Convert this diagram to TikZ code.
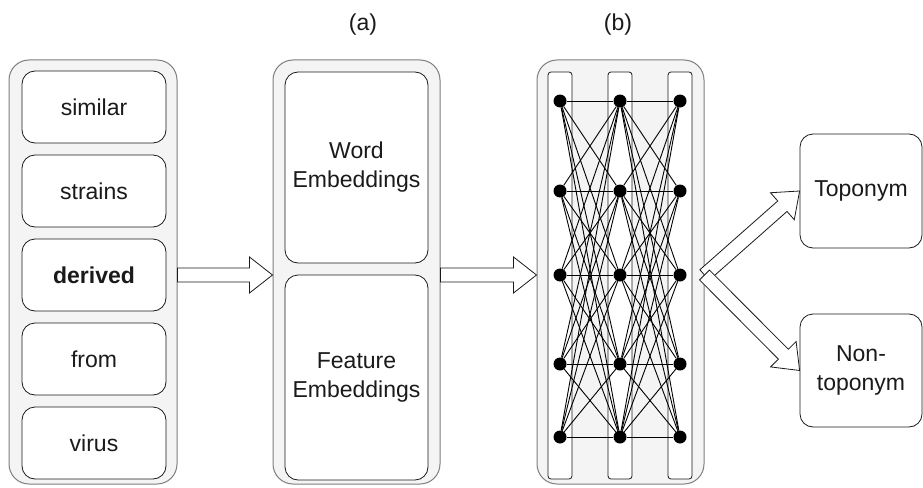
\documentclass[tikz,border=0pt]{standalone}
\usepackage{fontspec}
\setmainfont{Liberation Sans}
\usetikzlibrary{calc,positioning}
\definecolor{fondo}{HTML}{F4F4F4}
\definecolor{borde}{HTML}{7E7E7E}
\definecolor{tinta}{HTML}{1A1A1A}

\tikzset{
 panel/.style={draw=borde,fill=fondo,line width=1pt,rounded corners=20pt,minimum width=167pt,minimum height=424pt},
 wordbox/.style={draw=tinta,fill=white,line width=0.8pt,rounded corners=13pt,minimum width=144pt,minimum height=72pt,text=tinta},
 embbox/.style={wordbox,minimum width=143pt,align=center},
 outbox/.style={wordbox,minimum width=122pt,minimum height=114pt,align=center},
 layer/.style={draw=tinta,fill=white,line width=0.8pt,rounded corners=3pt,minimum width=24pt,minimum height=407pt},
 dot/.style={circle,fill=black,inner sep=0pt,minimum size=13pt},
 edge/.style={draw=black,line width=0.9pt},
 flow/.style={draw=tinta,fill=white,line width=0.8pt,line join=miter}
}

\newcommand{\blockarrow}[2]{%
 \path ($(#2)!23pt!(#1)$) coordinate (hb);
 \draw[flow] ($(#1)!7pt!90:(#2)$) -- ($(hb)!7pt!90:(#2)$) -- ($(hb)!18pt!90:(#2)$) -- (#2)
  -- ($(hb)!18pt!-90:(#2)$) -- ($(hb)!7pt!-90:(#2)$) -- ($(#1)!7pt!-90:(#2)$) -- cycle;}

\begin{document}
\begin{tikzpicture}[x=1pt,y=-1pt,font=\fontsize{23}{29}\selectfont]
\useasboundingbox (0,0) rectangle (923,487);

% input words
\node[panel,minimum width=168pt] (words) at (93,272) {};
\foreach \n/\y/\t in {1/107/similar,2/191/strains,3/275/\textbf{derived},4/359/from,5/443/virus}
 \node[wordbox] (w\n) at (94,\y) {\t};

% embeddings
\node[panel] (embed) at (356.5,272) {};
\node[embbox,minimum height=191pt] (wemb) at (356.5,167.5) {Word\\Embeddings};
\node[embbox,minimum height=205pt] (femb) at (356.5,377.5) {Feature\\Embeddings};
\node[text=tinta] (la) at (363,25) {(a)};

% network
\node[panel] (net) at (620.5,272) {};
\foreach \c/\x in {1/560,2/620,3/680} {
 \node[layer] (col\c) at (\x,275.5) {};
 \foreach \r/\y in {1/101,2/191,3/275,4/364,5/437}
  \node[dot] (n\c\r) at (\x,\y) {};
}
\foreach \i in {1,...,5} \foreach \j in {1,...,5} {
 \draw[edge] (n1\i) -- (n2\j);
 \draw[edge] (n2\i) -- (n3\j);
}
\node[text=tinta] (lb) at (618,25) {(b)};

% outputs
\node[outbox] (topo) at (861,191) {Toponym};
\node[outbox,minimum height=113pt] (nontopo) at (861,370.5) {Non-\\toponym};

% arrows
\coordinate (a1) at (words.east |- w3);
\coordinate (a2) at (embed.west |- w3);
\coordinate (a3) at (embed.east |- w3);
\coordinate (a4) at (net.west |- w3);
\coordinate (a5) at (net.east |- w3);
\blockarrow{a1}{a2}
\blockarrow{a3}{a4}
\blockarrow{a5}{topo.west}
\blockarrow{a5}{nontopo.west}

\end{tikzpicture}
\end{document}
